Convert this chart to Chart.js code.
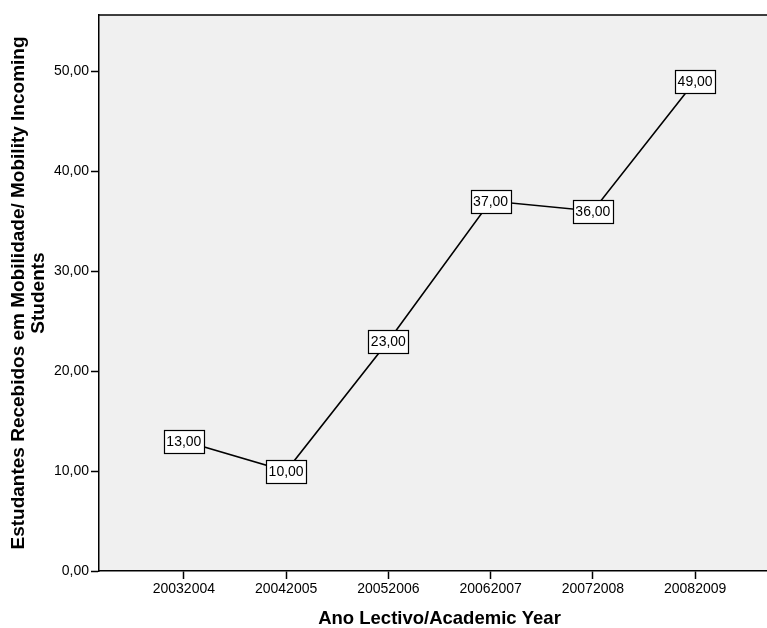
<!DOCTYPE html>
<html>
<head>
<meta charset="utf-8">
<script src="https://cdn.jsdelivr.net/npm/chart.js@4"></script>
<style>
  html, body { margin: 0; padding: 0; background: #ffffff; overflow: hidden; }
  #wrap { width: 780px; height: 628px; }
</style>
</head>
<body>
<div id="wrap"><canvas id="c" width="780" height="628"></canvas></div>
<script>
// Academic years and incoming mobility students
const categories = ['20032004', '20042005', '20052006', '20062007', '20072008', '20082009'];
const incoming = [13, 10, 23, 37, 36, 49];
const yTicks = [0, 10, 20, 30, 40, 50];

const fmt = v => v.toFixed(2).replace('.', ',');
const FONT = '"Liberation Sans", Arial, sans-serif';

const points = categories.map((c, i) => ({ x: i, y: incoming[i] }));

// plot background and top frame line
const frame = {
  id: 'frame',
  beforeDraw(chart) {
    const { ctx, chartArea: a } = chart;
    ctx.save();
    ctx.fillStyle = '#f0f0f0';
    ctx.fillRect(a.left, a.top, a.right - a.left, a.bottom - a.top);
    ctx.restore();
  },
  afterDraw(chart) {
    const { ctx, chartArea: a } = chart;
    ctx.save();
    ctx.strokeStyle = '#000';
    ctx.lineWidth = 1.5;
    ctx.beginPath();
    ctx.moveTo(a.left, a.top);
    ctx.lineTo(a.right, a.top);
    ctx.stroke();
    ctx.restore();
  }
};

// boxed value labels centred on each point
const valueBoxes = {
  id: 'valueBoxes',
  afterDatasetsDraw(chart) {
    const { ctx } = chart;
    const meta = chart.getDatasetMeta(0);
    ctx.save();
    ctx.font = '14px ' + FONT;
    ctx.textAlign = 'center';
    ctx.textBaseline = 'middle';
    meta.data.forEach((el, i) => {
      const txt = fmt(incoming[i]);
      const w = 40, h = 23;
      const x = Math.round(el.x - w / 2) + 0.5;
      const y = Math.round(el.y - h / 2) + 0.5;
      ctx.fillStyle = '#ffffff';
      ctx.fillRect(x, y, w, h);
      ctx.strokeStyle = '#000';
      ctx.lineWidth = 1.2;
      ctx.strokeRect(x, y, w, h);
      ctx.fillStyle = '#000';
      ctx.fillText(txt, el.x, el.y + 1);
    });
    ctx.restore();
  }
};

new Chart(document.getElementById('c'), {
  type: 'line',
  data: {
    datasets: [{
      data: points,
      borderColor: '#000',
      borderWidth: 1.6,
      pointRadius: 0,
      tension: 0,
      fill: false
    }]
  },
  options: {
    responsive: false,
    animation: false,
    devicePixelRatio: 1,
    layout: { padding: { top: 15, left: 0, right: 0, bottom: 0 } },
    plugins: { legend: { display: false }, tooltip: { enabled: false } },
    scales: {
      x: {
        type: 'linear',
        min: -0.83,
        max: 5.83,
        afterBuildTicks: s => { s.ticks = categories.map((c, i) => ({ value: i })); },
        afterFit: s => { s.height = 57; },
        ticks: {
          callback: v => categories[v],
          color: '#000',
          font: { family: FONT, size: 14 },
          padding: 2,
          maxRotation: 0,
          autoSkip: false
        },
        grid: { drawOnChartArea: false, drawTicks: true, tickLength: 8, tickColor: '#000', tickWidth: 1.5 },
        border: { display: true, color: '#000', width: 1.5 },
        title: {
          display: true,
          text: 'Ano Lectivo/Academic Year',
          color: '#000',
          font: { family: FONT, size: 18.5, weight: 'bold', lineHeight: 1 },
          padding: { top: 0, bottom: 0 }
        }
      },
      y: {
        type: 'linear',
        min: 0,
        max: 55.6,
        afterBuildTicks: s => { s.ticks = yTicks.map(v => ({ value: v })); },
        afterFit: s => { s.width = 99; },
        ticks: {
          callback: v => fmt(v),
          color: '#000',
          font: { family: FONT, size: 14 },
          padding: 2
        },
        grid: { drawOnChartArea: false, drawTicks: true, tickLength: 8, tickColor: '#000', tickWidth: 1.5 },
        border: { display: true, color: '#000', width: 1.5 },
        title: {
          display: true,
          text: ['Estudantes Recebidos em Mobilidade/ Mobility Incoming', 'Students'],
          color: '#000',
          font: { family: FONT, size: 19, weight: 'bold', lineHeight: 1.05 },
          padding: { top: 9, bottom: 0 }
        }
      }
    }
  },
  plugins: [frame, valueBoxes]
});
</script>
</body>
</html>
